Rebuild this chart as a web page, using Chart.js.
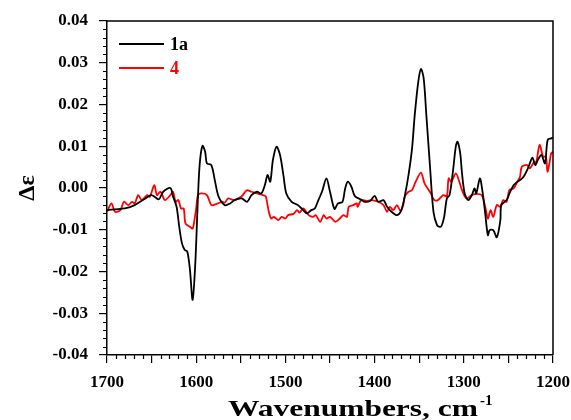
<!DOCTYPE html>
<html>
<head>
<meta charset="utf-8">
<script src="https://cdn.jsdelivr.net/npm/chart.js@4"></script>
<style>
html,body{margin:0;padding:0;background:#fff;}
#wrap{width:571px;height:420px;position:relative;}
</style>
</head>
<body>
<div id="wrap"><canvas id="c" width="571" height="420"></canvas></div>
<script>
// ---- data ----
const seriesLabels = ["1a", "4"];
const seriesColors = ["#000000", "#ff0000"];

const wn1a = [1700,1691,1680,1669,1657,1650,1642,1637,1629,1626,1622,1619,1616,1613,1610,1607,1604,1601,1598,1596,1593,1590,1588,1583,1579,1575,1568,1562,1557,1549,1543,1538,1532,1527,1523,1520,1517,1514,1510,1506,1502,1499,1493,1486,1480,1476,1471,1467,1463,1459,1454,1450,1445,1441,1436,1433,1430,1426,1422,1416,1411,1405,1400,1396,1390,1386,1381,1375,1370,1366,1362,1358,1355,1351,1348,1345,1342,1338,1334,1330,1327,1325,1322,1319,1316,1312,1309,1307,1304,1302,1299,1295,1291,1288,1286,1282,1279,1276,1273,1271,1267,1263,1259,1258,1252,1248,1244,1240,1237,1233,1229,1226,1223,1220,1217,1213,1209,1206,1202,1200];
const de1a = [-0.0053,-0.0051,-0.0049,-0.0041,-0.0025,-0.0017,-0.0027,-0.0009,0.0000,-0.0020,-0.0045,-0.0093,-0.0132,-0.0148,-0.0152,-0.0196,-0.0268,-0.0180,-0.0020,0.0059,0.0101,0.0087,0.0059,0.0055,0.0017,-0.0020,-0.0041,-0.0037,-0.0029,-0.0025,-0.0033,-0.0017,-0.0009,-0.0013,0.0007,0.0031,0.0015,0.0067,0.0099,0.0079,0.0027,-0.0013,-0.0033,-0.0041,-0.0053,-0.0061,-0.0053,-0.0049,-0.0029,-0.0009,0.0023,-0.0009,-0.0050,-0.0037,-0.0033,-0.0001,0.0015,0.0003,-0.0020,-0.0027,-0.0033,-0.0031,-0.0019,-0.0033,-0.0029,-0.0045,-0.0057,-0.0065,-0.0053,-0.0017,0.0031,0.0095,0.0175,0.0255,0.0285,0.0263,0.0175,0.0055,-0.0057,-0.0089,-0.0093,-0.0091,-0.0069,-0.0025,-0.0017,0.0043,0.0099,0.0111,0.0083,0.0035,-0.0013,-0.0029,-0.0017,-0.0001,-0.0013,0.0023,-0.0009,-0.0061,-0.0113,-0.0101,-0.0101,-0.0118,-0.0077,-0.0041,-0.0029,-0.0009,0.0007,0.0015,0.0019,0.0027,0.0043,0.0059,0.0073,0.0055,0.0067,0.0079,0.0059,0.0115,0.0119,0.0121];

const wn4 = [1700,1695,1691,1685,1681,1676,1672,1669,1665,1661,1655,1652,1647,1644,1640,1635,1629,1626,1623,1620,1617,1614,1612,1607,1604,1602,1600,1598,1594,1588,1583,1577,1571,1568,1564,1558,1553,1549,1545,1543,1538,1532,1525,1522,1519,1516,1513,1508,1504,1500,1497,1491,1487,1484,1480,1474,1469,1466,1461,1457,1454,1450,1444,1439,1435,1431,1429,1424,1420,1419,1415,1409,1404,1396,1390,1386,1383,1379,1375,1371,1368,1366,1362,1358,1354,1348,1344,1338,1333,1329,1323,1319,1317,1314,1309,1305,1302,1297,1291,1286,1280,1276,1273,1270,1267,1263,1259,1256,1252,1249,1244,1240,1237,1235,1229,1226,1221,1219,1215,1211,1208,1206,1202,1200];
const de4 = [-0.0057,-0.0037,-0.0057,-0.0053,-0.0033,-0.0041,-0.0033,-0.0037,-0.0017,-0.0029,-0.0017,-0.0021,0.0007,-0.0017,-0.0009,-0.0029,-0.0017,-0.0009,-0.0033,-0.0029,-0.0049,-0.0049,-0.0085,-0.0093,-0.0097,-0.0077,-0.0049,-0.0017,-0.0013,-0.0017,-0.0041,-0.0038,-0.0033,-0.0035,-0.0025,-0.0029,-0.0025,-0.0020,-0.0009,-0.0005,-0.0009,-0.0013,-0.0017,-0.0020,-0.0053,-0.0073,-0.0069,-0.0077,-0.0069,-0.0073,-0.0065,-0.0062,-0.0053,-0.0059,-0.0049,-0.0065,-0.0069,-0.0065,-0.0081,-0.0065,-0.0073,-0.0069,-0.0081,-0.0073,-0.0065,-0.0069,-0.0045,-0.0041,-0.0037,-0.0045,-0.0029,-0.0031,-0.0029,-0.0033,-0.0041,-0.0057,-0.0045,-0.0053,-0.0041,-0.0055,-0.0041,-0.0020,-0.0009,-0.0005,0.0015,0.0037,0.0011,-0.0009,-0.0029,-0.0029,-0.0017,-0.0020,0.0023,0.0015,0.0035,0.0015,-0.0005,-0.0025,-0.0017,-0.0014,-0.0017,-0.0045,-0.0073,-0.0053,-0.0069,-0.0041,-0.0045,-0.0029,-0.0033,-0.0005,-0.0001,0.0015,0.0027,0.0051,0.0055,0.0047,0.0063,0.0059,0.0103,0.0075,0.0075,0.0039,0.0083,0.0087];

const xTickLabels = ["1700","1600","1500","1400","1300","1200"];
const yTickLabels = ["-0.04","-0.03","-0.02","-0.01","0.00","0.01","0.02","0.03","0.04"];
const xAxisTitle = "Wavenumbers, cm";
const xAxisTitleSup = "-1";
const yAxisTitle = "Δε";

// ---- chart ----
const FONT = "'Liberation Serif', 'Times New Roman', serif";

function toPts(xs, ys){ return xs.map((x,i)=>({x:x, y:ys[i]})); }

const frameAndExtras = {
  id: 'frameAndExtras',
  afterDraw(chart){
    const ctx = chart.ctx, a = chart.chartArea;
    const xs = chart.scales.x, ys = chart.scales.y;
    ctx.save();
    ctx.strokeStyle = '#000';
    ctx.lineWidth = 1.5;
    // frame (top and right)
    ctx.beginPath();
    ctx.moveTo(a.left, a.top); ctx.lineTo(a.right, a.top); ctx.lineTo(a.right, a.bottom);
    ctx.stroke();
    // minor ticks
    ctx.lineWidth = 1.2;
    ctx.beginPath();
    for (let v = 1200; v <= 1700; v += 10){
      if (v % 50 === 0) continue;
      const px = Math.round(xs.getPixelForValue(v)) + 0.5;
      ctx.moveTo(px, a.bottom); ctx.lineTo(px, a.bottom + 4);
    }
    for (let k = -20; k <= 20; k++){
      if (k % 5 === 0) continue;
      const py = Math.round(ys.getPixelForValue(k*0.002)) + 0.5;
      ctx.moveTo(a.left, py); ctx.lineTo(a.left - 4, py);
    }
    ctx.stroke();
    // legend (inside plot, top-left)
    const ds = chart.data.datasets;
    ctx.font = "bold 18px " + FONT;
    ctx.textBaseline = 'middle';
    ds.forEach((d, i) => {
      const y = a.top + 23 + i*24;
      ctx.strokeStyle = d.borderColor;
      ctx.lineWidth = 1.8;
      ctx.beginPath(); ctx.moveTo(a.left + 12, y); ctx.lineTo(a.left + 57, y); ctx.stroke();
      ctx.fillStyle = d.borderColor;
      ctx.textAlign = 'left';
      ctx.fillText(d.label, a.left + 63, y + 1);
    });
    // x axis title with superscript (stretched to the reference width)
    ctx.fillStyle = '#000';
    ctx.textBaseline = 'alphabetic';
    ctx.textAlign = 'left';
    ctx.font = "bold 24px " + FONT;
    const w1 = ctx.measureText(xAxisTitle).width;
    const sx = 250 / w1;
    ctx.save();
    ctx.translate(228, 416);
    ctx.scale(sx, 1);
    ctx.fillText(xAxisTitle, 0, 0);
    ctx.restore();
    ctx.font = "bold 15px " + FONT;
    ctx.fillText(xAxisTitleSup, 228 + 250 + 2, 405);
    // y axis title
    ctx.save();
    ctx.translate(28, (a.top + a.bottom)/2);
    ctx.rotate(-Math.PI/2);
    ctx.font = "bold 24px " + FONT;
    ctx.textAlign = 'center';
    ctx.textBaseline = 'middle';
    ctx.fillText(yAxisTitle, 0, 0);
    ctx.restore();
    ctx.restore();
  }
};

new Chart(document.getElementById('c'), {
  type: 'line',
  data: {
    datasets: [
      { label: seriesLabels[0], data: toPts(wn1a, de1a), borderColor: seriesColors[0], borderWidth: 1.8, pointRadius: 0, tension: 0.3, fill: false },
      { label: seriesLabels[1], data: toPts(wn4, de4), borderColor: seriesColors[1], borderWidth: 1.8, pointRadius: 0, tension: 0.3, fill: false }
    ]
  },
  options: {
    responsive: false,
    animation: false,
    devicePixelRatio: 1,
    layout: { padding: { left: 0, right: 18, top: 21, bottom: 0 } },
    plugins: { legend: { display: false }, tooltip: { enabled: false } },
    scales: {
      x: {
        type: 'linear', reverse: true, min: 1200, max: 1700,
        afterFit(s){ s.height = 65; s.paddingLeft = 0; s.paddingRight = 0; },
        ticks: {
          stepSize: 50, autoSkip: false, maxRotation: 0, padding: 9,
          color: '#000', font: { family: FONT, size: 17, weight: 'bold' },
          callback(v){ const s = String(v); return xTickLabels.includes(s) ? s : ''; }
        },
        grid: { drawOnChartArea: false, drawTicks: true, tickLength: 8, color: '#000', lineWidth: 1.2 },
        border: { display: true, color: '#000', width: 1.5 }
      },
      y: {
        type: 'linear', min: -0.04, max: 0.04,
        afterFit(s){ s.width = 107; s.paddingTop = 0; s.paddingBottom = 0; },
        ticks: {
          stepSize: 0.01, autoSkip: false, padding: 11,
          color: '#000', font: { family: FONT, size: 17, weight: 'bold' },
          callback(v){ const i = Math.round((v + 0.04)/0.01); return yTickLabels[i]; }
        },
        grid: { drawOnChartArea: false, drawTicks: true, tickLength: 8, color: '#000', lineWidth: 1.2 },
        border: { display: true, color: '#000', width: 1.5 }
      }
    }
  },
  plugins: [frameAndExtras]
});
</script>
</body>
</html>
